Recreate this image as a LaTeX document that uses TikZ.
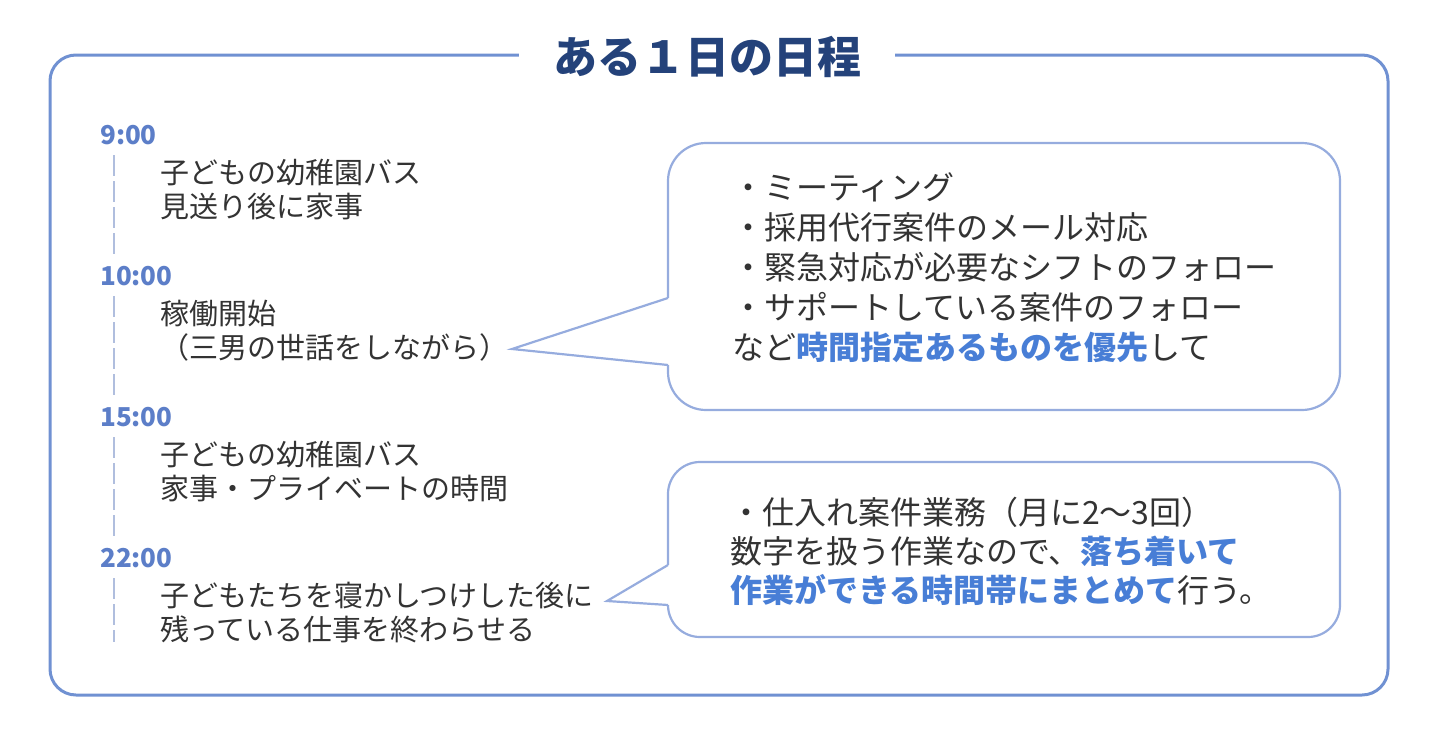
\documentclass[tikz,border=0pt]{standalone}
\usepackage{fontspec}
\setmainfont{Noto Sans CJK JP}
\usetikzlibrary{positioning}
\usepackage{xcolor}

\definecolor{framecol}{RGB}{112,145,210}
\definecolor{bubblecol}{RGB}{150,172,222}
\definecolor{titlecol}{RGB}{36,66,122}
\definecolor{timecol}{RGB}{92,126,200}
\definecolor{hlcol}{RGB}{72,126,214}
\definecolor{railcol}{RGB}{176,190,222}
\definecolor{textcol}{RGB}{51,51,51}

\newcommand{\blueword}[1]{{\color{hlcol}\bfseries #1}}

\begin{document}
\begin{tikzpicture}[x=1pt,y=-1pt]
\tikzstyle{frame} = [draw=framecol, line width=3pt, rounded corners=26pt]
\tikzstyle{heading} = [fill=white, inner xsep=34pt, inner ysep=2pt, text=titlecol, font=\fontsize{44}{48}\selectfont\bfseries]
\tikzstyle{timebox} = [anchor=west, inner sep=0pt, text=timecol, font=\fontsize{26}{30}\selectfont\bfseries]
\tikzstyle{entry} = [anchor=west, inner sep=0pt, align=left, text=textcol, font=\fontsize{29}{34}\selectfont]
\tikzstyle{rail} = [draw=railcol, line width=2pt, dash pattern=on 21pt off 5pt]
\tikzstyle{bubble} = [rectangle, draw=bubblecol, line width=2.2pt, fill=white, minimum width=672pt]
\tikzstyle{bubbletext} = [anchor=west, inner sep=0pt, align=left, text=textcol, font=\fontsize{32}{40}\selectfont]
\tikzstyle{tail} = [draw=bubblecol, line width=2.2pt, line join=miter]

\useasboundingbox (0,0) rectangle (1440,744);

% outer frame and title
\draw[frame] (50,55) rectangle (1388,695);
\node (title) [heading] at (707,57) {ある１日の日程};

% timeline
\node (t9) [timebox] at (100,135) {9:00};
\node (t10) [timebox, below=141pt of t9.west, anchor=west] {10:00};
\node (t15) [timebox, below=141pt of t10.west, anchor=west] {15:00};
\node (t22) [timebox, below=141pt of t15.west, anchor=west] {22:00};

\node (e9) [entry, below right=55pt and 60pt of t9.west, anchor=west] {子どもの幼稚園バス\\見送り後に家事};
\node (e10) [entry, below right=55pt and 60pt of t10.west, anchor=west] {稼働開始\\（三男の世話をしながら）};
\node (e15) [entry, below right=55pt and 60pt of t15.west, anchor=west] {子どもの幼稚園バス\\家事・プライベートの時間};
\node (e22) [entry, below right=55pt and 60pt of t22.west, anchor=west] {子どもたちを寝かしつけした後に\\残っている仕事を終わらせる};

\draw[rail] ([xshift=14pt,yshift=-20pt]t9.west) -- ([xshift=14pt,yshift=20pt]t10.west);
\draw[rail] ([xshift=14pt,yshift=-20pt]t10.west) -- ([xshift=14pt,yshift=20pt]t15.west);
\draw[rail] ([xshift=14pt,yshift=-20pt]t15.west) -- ([xshift=14pt,yshift=20pt]t22.west);
\draw[rail] ([xshift=14pt,yshift=-20pt]t22.west) -- ([xshift=14pt,yshift=-84pt]t22.west);

% speech bubbles
\node (busy) [bubble, rounded corners=38pt, minimum height=267pt] at (1004,276.5) {};
\node (busytext) [bubbletext] at (732,268) {・ミーティング\\・採用代行案件のメール対応\\・緊急対応が必要なシフトのフォロー\\・サポートしている案件のフォロー\\など\blueword{時間指定あるものを優先}して};

\node (night) [bubble, rounded corners=32pt, minimum height=175pt] at (1004,549.5) {};
\node (nighttext) [bubbletext, font=\fontsize{32}{39}\selectfont] at (730,551) {・仕入れ案件業務（月に2〜3回）\\数字を扱う作業なので、\blueword{落ち着いて}\\\blueword{作業ができる時間帯にまとめて}行う。};

% tails
\coordinate (tip1) at (512,349);
\coordinate (busyA) at (668,298);
\coordinate (busyB) at (668,365);
\fill[white] ([xshift=-3pt]busyA) rectangle ([xshift=3pt]busyB);
\draw[tail] (busyA) -- (tip1) -- (busyB);

\coordinate (tip2) at (607,601);
\coordinate (nightA) at (668,565);
\coordinate (nightB) at (668,605);
\fill[white] ([xshift=-3pt]nightA) rectangle ([xshift=3pt]nightB);
\draw[tail] (nightA) -- (tip2) -- (nightB);
\end{tikzpicture}
\end{document}
